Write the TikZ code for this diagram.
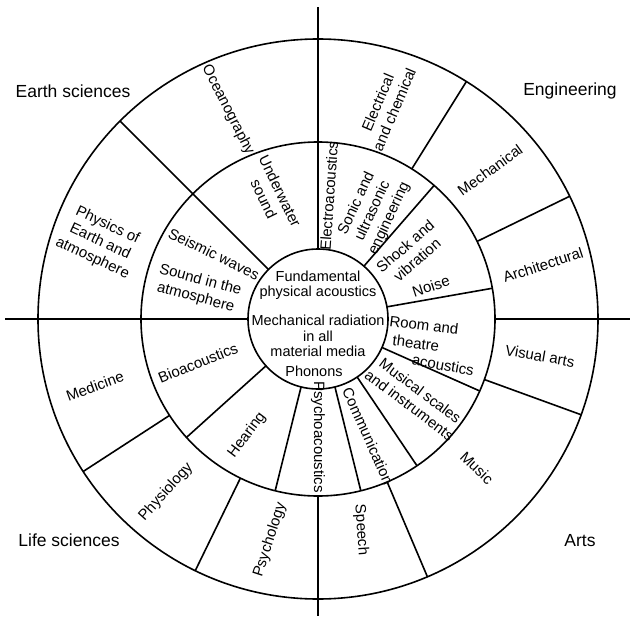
\documentclass[tikz,border=0pt]{standalone}
\usepackage{fontspec}
\setmainfont{Liberation Sans}
\begin{document}
\begin{tikzpicture}[x=1pt,y=1pt,line width=1.6pt,
  disc/.style={circle,draw,inner sep=0pt,outer sep=0pt},
  ring/.style={font=\fontsize{15}{18}\selectfont,align=center,inner sep=0pt},
  core/.style={font=\fontsize{14.5}{15.5}\selectfont,align=center,inner sep=0pt},
  field/.style={font=\fontsize{17.5}{20}\selectfont,inner sep=0pt}]
\useasboundingbox (-318,-297) rectangle (313,319);
% circles
\node[disc,minimum size=560pt] (outer) at (0,0) {};
\node[disc,minimum size=354pt] (middle) at (0,0) {};
\node[disc,minimum size=140pt] (inner) at (0,0) {};
% axes
\coordinate (N) at (0,312);
\coordinate (S) at (0,-297);
\coordinate (W) at (-313,0);
\coordinate (E) at (312,0);
\draw (inner.90) -- (N);
\draw (middle.270) -- (S);
\draw (inner.180) -- (W);
\draw (middle.0) -- (E);
% spokes of the outer ring
\foreach \a in {58,26,340,293,244,213} \draw (middle.\a) -- (outer.\a);
% spoke through both rings
\draw (inner.135) -- (outer.135);
% spokes of the middle ring
\foreach \a in {49,10,336,304,284,256,222} \draw (inner.\a) -- (middle.\a);
% field labels
\node[field] (earth) at (-245,228) {Earth sciences};
\node[field] (eng) at (252,228) {Engineering};
\node[field] (life) at (-249,-221) {Life sciences};
\node[field] (arts) at (262,-222) {Arts};
% outer ring
\node[ring,rotate=-63] (ocean) at (-90,209) {Oceanography};
\node[ring,rotate=67] (elec) at (68,213) {Electrical\\and chemical};
\node[ring,rotate=36] (mech) at (172,149) {Mechanical};
\node[ring,rotate=18] (arch) at (225,54) {Architectural};
\node[ring,rotate=-10] (visual) at (222,-37) {Visual arts};
\node[ring,rotate=-44] (music) at (159,-149) {Music};
\node[ring,rotate=-86] (speech) at (43,-211) {Speech};
\node[ring,rotate=72] (psychol) at (-48,-221) {Psychology};
\node[ring,rotate=48] (physiol) at (-152,-173) {Physiology};
\node[ring,rotate=20] (medic) at (-223,-67) {Medicine};
\node[ring,rotate=-25] (physearth) at (-218,77) {Physics of\\Earth and\\atmosphere};
% middle ring
\node[ring,rotate=-64] (under) at (-46,124) {Underwater\\sound};
\node[ring,rotate=86] (electro) at (11,123) {Electroacoustics};
\node[ring,rotate=65] (sonic) at (55,108) {Sonic and\\ultrasonic\\engineering};
\node[ring,rotate=41] (shock) at (93,66) {Shock and\\vibration};
\node[ring,rotate=18] (noise) at (113,33) {Noise};
\node[ring,rotate=-7] (room1) at (106,-6) {Room and};
\node[ring,rotate=-7] (room2) at (98,-24) {theatre};
\node[ring,rotate=-10] (room3) at (125,-46) {acoustics};
\node[ring,rotate=-37] (musical) at (97,-79) {Musical scales\\and instruments};
\node[ring,rotate=-66] (comm) at (50,-117) {Communication};
\node[ring,rotate=-90] (psychoac) at (0,-118) {Psychoacoustics};
\node[ring,rotate=53] (hearing) at (-71,-116) {Hearing};
\node[ring,rotate=22] (bio) at (-120,-44) {Bioacoustics};
\node[ring,rotate=-26] (seismic) at (-104,65) {Seismic waves};
\node[ring,rotate=-15] (atmos) at (-120,30) {Sound in the\\atmosphere};
% core
\node[core] (fund) at (0,34) {Fundamental\\physical acoustics};
\node[core] (mechrad) at (0,-17) {Mechanical radiation\\in all\\material media};
\node[core] (phonons) at (-4,-52) {Phonons};
\end{tikzpicture}
\end{document}
